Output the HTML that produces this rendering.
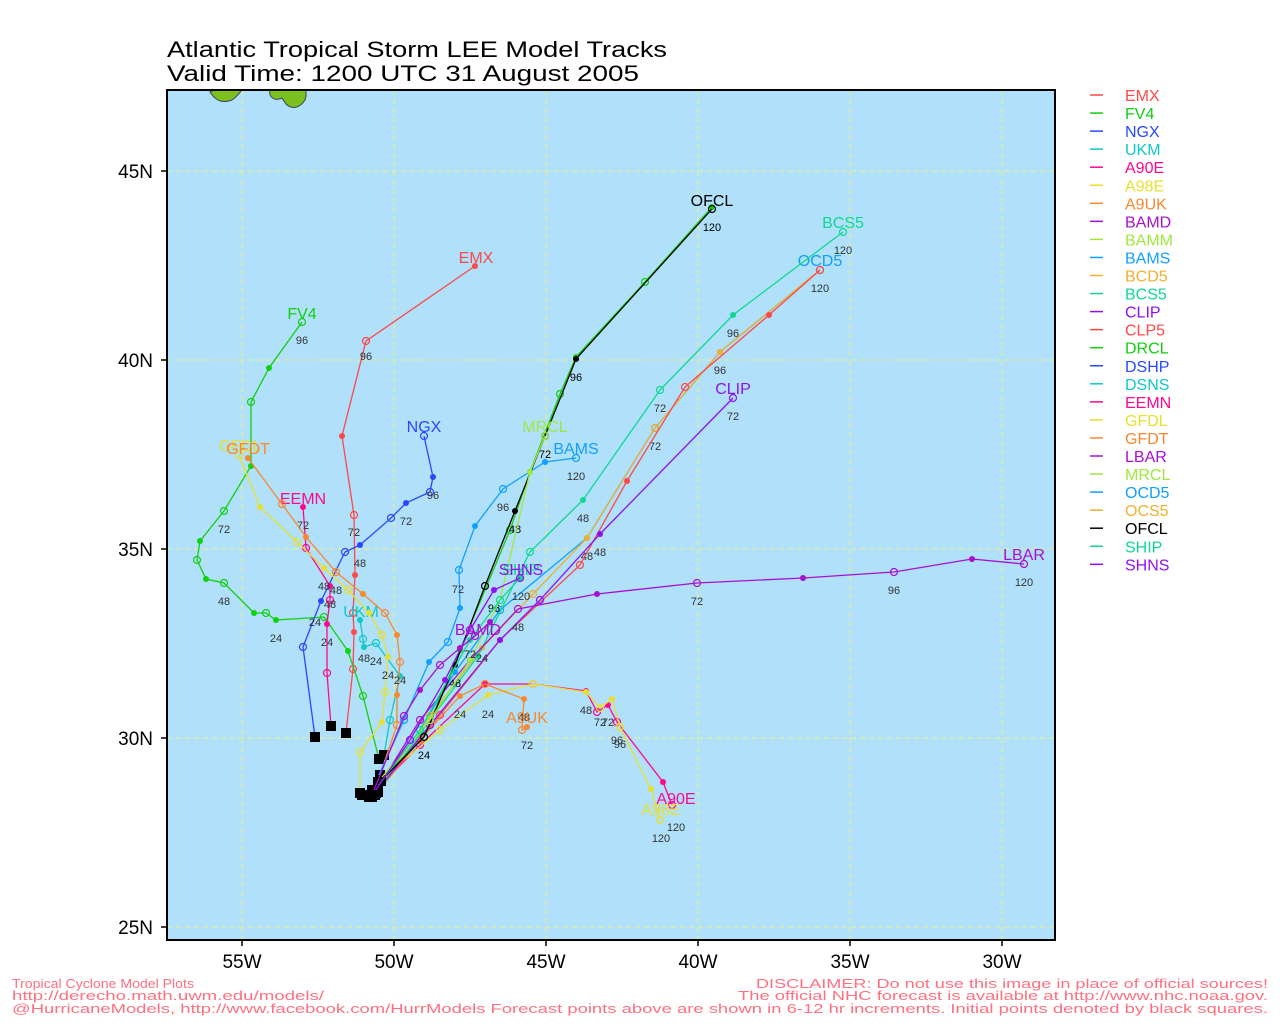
<!DOCTYPE html>
<html><head><meta charset="utf-8"><style>
html,body{margin:0;padding:0;background:#fff;width:1280px;height:1024px;overflow:hidden}
svg text{font-family:"Liberation Sans",sans-serif}
</style></head><body>
<svg id="s" width="1280" height="1024" xmlns="http://www.w3.org/2000/svg">
<rect x="167" y="90" width="888" height="850" fill="#b0e0fa"/>
<path d="M210,92 C215,100 222,104 232,100 C238,96 240,92 242,90 L214,90Z" fill="#7cc020" stroke="#445" stroke-width="1"/>
<path d="M270,90 C268,96 274,102 282,98 L286,104 C292,110 300,108 305,100 C307,94 306,90 305,90Z" fill="#7cc020" stroke="#445" stroke-width="1"/>
<g stroke="#f0f080" stroke-width="1" stroke-dasharray="5,4">
<line x1="242" y1="90" x2="242" y2="940"/><line x1="394" y1="90" x2="394" y2="940"/><line x1="546" y1="90" x2="546" y2="940"/><line x1="698" y1="90" x2="698" y2="940"/><line x1="850" y1="90" x2="850" y2="940"/><line x1="1002" y1="90" x2="1002" y2="940"/>
<line x1="167" y1="171" x2="1055" y2="171"/><line x1="167" y1="360" x2="1055" y2="360"/><line x1="167" y1="549" x2="1055" y2="549"/><line x1="167" y1="738" x2="1055" y2="738"/><line x1="167" y1="927" x2="1055" y2="927"/>
</g>
<g id="tracks"></g>
<rect x="167" y="90" width="888" height="850" fill="none" stroke="#000" stroke-width="2"/>
<g stroke="#000" stroke-width="1.5">
<line x1="242" y1="940" x2="242" y2="946"/><line x1="394" y1="940" x2="394" y2="946"/><line x1="546" y1="940" x2="546" y2="946"/><line x1="698" y1="940" x2="698" y2="946"/><line x1="850" y1="940" x2="850" y2="946"/><line x1="1002" y1="940" x2="1002" y2="946"/>
<line x1="161" y1="171" x2="167" y2="171"/><line x1="161" y1="360" x2="167" y2="360"/><line x1="161" y1="549" x2="167" y2="549"/><line x1="161" y1="738" x2="167" y2="738"/><line x1="161" y1="927" x2="167" y2="927"/>
</g>
<g font-size="19" fill="#000">
<text x="242" y="968" text-anchor="middle">55W</text><text x="394" y="968" text-anchor="middle">50W</text><text x="546" y="968" text-anchor="middle">45W</text><text x="698" y="968" text-anchor="middle">40W</text><text x="850" y="968" text-anchor="middle">35W</text><text x="1002" y="968" text-anchor="middle">30W</text>
<text x="153" y="178" text-anchor="end">45N</text><text x="153" y="367" text-anchor="end">40N</text><text x="153" y="556" text-anchor="end">35N</text><text x="153" y="745" text-anchor="end">30N</text><text x="153" y="934" text-anchor="end">25N</text>
</g>
<text x="167" y="57" font-size="22" textLength="500" lengthAdjust="spacingAndGlyphs">Atlantic Tropical Storm LEE Model Tracks</text>
<text x="167" y="81" font-size="22" textLength="472" lengthAdjust="spacingAndGlyphs">Valid Time: 1200 UTC 31 August 2005</text>
<g font-size="13" fill="#ff7080">
<text x="12" y="988" textLength="182" lengthAdjust="spacingAndGlyphs">Tropical Cyclone Model Plots</text>
<text x="12" y="1000" textLength="312" lengthAdjust="spacingAndGlyphs">http://derecho.math.uwm.edu/models/</text>
<text x="12" y="1013" textLength="1256" lengthAdjust="spacingAndGlyphs">@HurricaneModels, http://www.facebook.com/HurrModels  Forecast points above are shown in 6-12 hr increments. Initial points denoted by black squares.</text>
<text x="1268" y="988" text-anchor="end" textLength="512" lengthAdjust="spacingAndGlyphs">DISCLAIMER: Do not use this image in place of official sources!</text>
<text x="1268" y="1000" text-anchor="end" textLength="530" lengthAdjust="spacingAndGlyphs">The official NHC forecast is available at http://www.nhc.noaa.gov.</text>
</g>
<g id="legend"></g>
</svg>
<script>
var C={EMX:"#ff4848",FV4:"#10d010",NGX:"#2848ff",UKM:"#10c8c8",A90E:"#ff0890",A98E:"#e8e030",A9UK:"#f88830",BAMD:"#a810d0",BAMM:"#a0e840",BAMS:"#10a0ff",BCD5:"#f0b030",BCS5:"#10d890",CLIP:"#9010f0",CLP5:"#ff4848",DRCL:"#10d010",DSHP:"#2848ff",DSNS:"#10c8c8",EEMN:"#ff0890",GFDL:"#e8e030",GFDT:"#f88830",LBAR:"#a810d0",MRCL:"#a0e840",OCD5:"#10a0ff",OCS5:"#f0b030",OFCL:"#000",SHIP:"#10d890",SHNS:"#9010f0"};
var T=[
["EMX",[[346,733],[353,669],[354,632],[353,613],[355,575],[354,515],[342,436],[366,341],[475,266]],[476,256],[[354,530,"72"],[366,354,"96"]]],
["FV4",[[379,759],[363,696],[348,651],[324,617],[276,620],[266,613],[254,613],[224,583],[206,579],[197,560],[200,541],[224,511],[251,466],[251,402],[269,368],[302,322]],[302,312],[[276,636,"24"],[224,599,"48"],[224,527,"72"],[302,338,"96"]]],
["NGX",[[315,737],[303,647],[321,601],[345,552],[360,545],[391,518],[406,503],[430,492],[433,477],[424,436]],[424,425],[[315,620,"24"],[360,561,"48"],[406,519,"72"],[433,493,"96"]]],
["UKM",[[384,755],[390,720],[400,676],[376,643],[364,647],[363,639],[360,620]],[361,610],[[376,659,"24"],[364,656,"48"]]],
["EEMN",[[331,726],[327,673],[327,624],[330,600],[330,586],[306,548],[303,507]],[303,497],[[327,640,"24"],[330,602,"48"],[303,523,"72"]]],
["GFDL",[[360,793],[360,752],[382,722],[385,692],[388,657],[382,635],[369,613],[348,590],[324,568],[297,542],[260,507],[239,455]],[240,444],[[388,673,"24"],[324,584,"48"]]],
["GFDT",[[380,775],[397,725],[397,695],[400,662],[397,635],[385,613],[363,594],[336,572],[306,537],[282,504],[248,458]],[248,447],[[400,678,"24"],[336,588,"48"]]],
["A90E",[[369,797],[420,745],[485,684],[533,684],[586,691],[597,712],[608,705],[617,722],[663,782],[672,805]],[676,797],[[586,708,"48"],[608,720,"72"],[617,738,"96"],[676,825,"120"]]],
["A98E",[[362,795],[440,730],[488,695],[533,684],[586,692],[600,708],[612,699],[620,727],[651,789],[660,820]],[661,808],[[488,712,"24"],[600,720,"72"],[620,742,"96"],[661,836,"120"]]],
["A9UK",[[375,795],[420,740],[460,696],[485,684],[524,699],[522,730],[527,727]],[527,716],[[460,712,"24"],[524,715,"48"],[527,743,"72"]]],
["BAMS",[[372,790],[404,720],[429,662],[448,642],[460,608],[459,570],[475,526],[503,489],[545,462],[576,458]],[576,447],[[458,587,"72"],[503,505,"96"],[576,474,"120"]]],
["OCD5",[[374,795],[420,730],[455,672],[500,610],[587,538],[655,428],[720,352],[820,270]],[820,259],[]],
["BCD5",[[374,795],[430,716],[482,648],[533,594],[587,538],[655,428],[720,352],[820,270]],[],[[587,554,"48"],[655,444,"72"],[720,368,"96"],[820,286,"120"]]],
["CLP5",[[376,793],[440,715],[500,640],[580,565],[627,481],[685,387],[769,315],[820,270]],[],[]],
["BCS5",[[378,792],[430,720],[478,656],[530,552],[583,500],[660,390],[733,315],[843,232]],[843,221],[[583,516,"48"],[660,406,"72"],[733,331,"96"],[843,248,"120"]]],
["CLIP",[[372,797],[430,725],[500,640],[540,600],[600,534],[733,398]],[733,387],[[600,550,"48"],[733,414,"72"]]],
["LBAR",[[372,797],[420,720],[470,660],[518,609],[597,594],[697,583],[803,578],[894,572],[972,559],[1024,564]],[1024,553],[[518,625,"48"],[697,599,"72"],[894,588,"96"],[1024,580,"120"]]],
["DRCL",[[380,780],[424,737],[460,650],[510,530],[530,472],[560,394],[576,357],[645,282],[712,207]],[],[]],
["OFCL",[[381,781],[424,737],[455,665],[485,586],[515,511],[545,436],[576,359],[712,209]],[712,199],[[424,753,"24"],[455,681,"48"],[515,527,"48"],[494,606,"96"],[545,452,"72"],[576,375,"96"],[712,225,"120"]]],
["MRCL",[[378,782],[430,720],[470,660],[500,600],[530,472],[545,436]],[545,425],[]],
["SHIP",[[375,790],[420,730],[470,640],[500,600],[520,578]],[521,568],[[521,594,"120"]]],
["SHNS",[[371,797],[410,740],[445,680],[470,630],[494,590],[520,578]],[521,568],[]],
["BAMD",[[372,795],[404,716],[420,690],[440,665],[460,648],[475,636],[490,622]],[478,628],[[482,656,"24"],[470,652,"72"]]]
];
var ns="http://www.w3.org/2000/svg",g=document.getElementById("tracks");
function el(n,a,p){var e=document.createElementNS(ns,n);for(var k in a)e.setAttribute(k,a[k]);(p||g).appendChild(e);return e}
T.forEach(function(t){var c=C[t[0]];el("polyline",{points:t[1].map(function(p){return p.join(",")}).join(" "),fill:"none",stroke:c,"stroke-width":1.3});
t[1].forEach(function(p,i){if(i==0)return;if(i%2)el("circle",{cx:p[0],cy:p[1],r:3.5,fill:"none",stroke:c,"stroke-width":1.2});else el("circle",{cx:p[0],cy:p[1],r:3,fill:c});});
t[3].forEach(function(l){var e=el("text",{x:l[0],y:l[1]+6,"font-size":11,fill:t[0]=="OFCL"?"#000":"#333","text-anchor":"middle"});e.textContent=l[2];});
if(t[2].length){var e=el("text",{x:t[2][0],y:t[2][1]+7,"font-size":16,fill:c,"text-anchor":"middle"});e.textContent=t[0];}
var s=t[1][0];el("rect",{x:s[0]-5,y:s[1]-5,width:10,height:10,fill:"#000"});});
var L=document.getElementById("legend"),n=0;
for(var k in C){var y=95+n*18.05;el("line",{x1:1090,x2:1103,y1:y,y2:y,stroke:C[k],"stroke-width":1.5},L);var e=el("text",{x:1125,y:y+6,"font-size":16,fill:C[k]},L);e.textContent=k;n++;}
</script>
</body></html>
